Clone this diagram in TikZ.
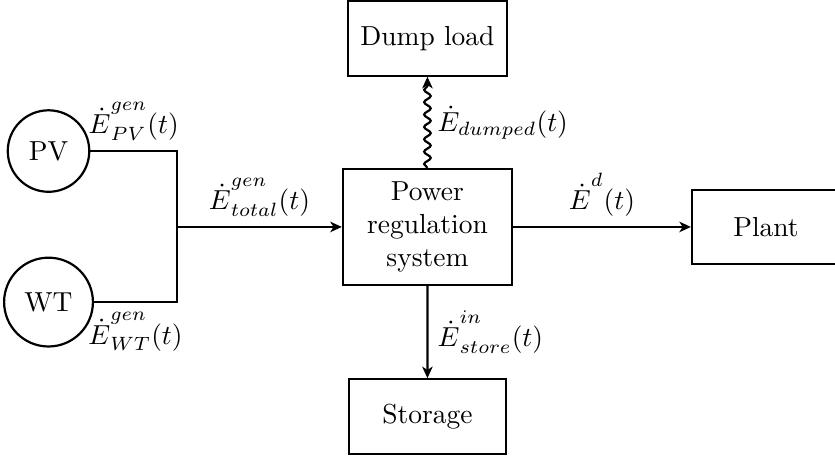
\documentclass[tikz,border=0pt]{standalone}
\usepackage{amsmath, amssymb}
\usetikzlibrary{arrows.meta, decorations.pathmorphing}

\newcommand{\Edot}{{\dot{E}\rule{0pt}{11pt}}}

\begin{document}
\begin{tikzpicture}[scale=0.2,
        >={Stealth[length=4.2pt, width=3.8pt, inset=1.2pt]},
        block/.style={draw, thick, rectangle, minimum width=2.04cm, minimum height=0.95cm, align=center},
        source/.style={draw, thick, circle, minimum size=0.97cm, inner sep=5pt},
        flow/.style={thick, ->},
        wavy/.style={thick, ->, decorate, decoration={snake, amplitude=1.2pt, segment length=4.5pt, post length=1mm}}]
        \useasboundingbox (0,0) rectangle (53.35,-29.33);
        % blocks
        \node [block] (dump) at (27.31,-2.46) {Dump load};
        \node [block, minimum width=2.16cm, minimum height=1.48cm] (prs) at (27.31,-14.5) {Power\\regulation\\system};
        \node [block, minimum width=1.89cm] (plant) at (48.94,-14.5) {Plant};
        \node [block, minimum width=2cm] (storage) at (27.31,-26.61) {Storage};
        % sources
        \node [source] (pv) at (3.1,-9.65) {PV};
        \node [source] (wt) at (3.1,-19.3) {WT};
        \coordinate (join) at (11.31,-14.5);
        % flows
        \draw [thick] (pv) -| node [pos=0.25, above] {$\Edot^{gen}_{PV}(t)$} (join)
            |- node [pos=0.75, below] {$\Edot^{gen}_{WT}(t)$} (wt);
        \draw [flow] (join) -- node [above] {$\Edot^{gen}_{total}(t)$} (prs);
        \draw [flow] (prs) -- node [above] {$\Edot^{d}(t)$} (plant);
        \draw [flow] (prs) -- node [right] {$\Edot^{in}_{store}(t)$} (storage);
        \draw [wavy] (prs) -- node [right] {$\dot{E}_{dumped}(t)$} (dump);
\end{tikzpicture}
\end{document}
